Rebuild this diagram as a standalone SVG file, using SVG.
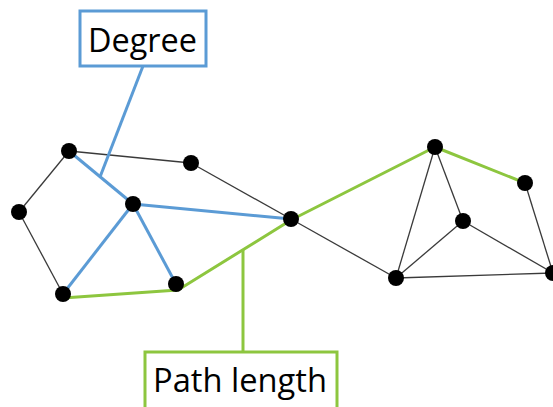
<svg xmlns="http://www.w3.org/2000/svg" width="553" height="407" viewBox="0 0 553 407">
<style>
.e{stroke:#3a3a3a;stroke-width:1.3;fill:none}
.b{stroke:#5B9BD5;stroke-width:3;fill:none}
.g{stroke:#8DC63F;stroke-width:3;fill:none;stroke-linejoin:round}
.n{fill:#000}
.t{font-family:"Open Sans","Liberation Sans",sans-serif;font-size:32px;fill:#000}
</style>
<rect width="553" height="407" fill="#fff"/>
<g id="connectors">
<line class="e" x1="69" y1="151" x2="191" y2="163"/>
<line class="e" x1="69" y1="151" x2="19" y2="212"/>
<line class="e" x1="19" y1="212" x2="63" y2="294"/>
<line class="e" x1="191" y1="163" x2="291" y2="219"/>
<line class="e" x1="291" y1="219" x2="396" y2="278"/>
<line class="e" x1="435" y1="147" x2="396" y2="278"/>
<line class="e" x1="435" y1="147" x2="463" y2="221"/>
<line class="e" x1="463" y1="221" x2="396" y2="278"/>
<line class="e" x1="463" y1="221" x2="553" y2="273"/>
<line class="e" x1="396" y1="278" x2="553" y2="273"/>
<line class="e" x1="525" y1="183" x2="553" y2="273"/>
<line class="b" x1="69" y1="151" x2="133" y2="204"/>
<line class="b" x1="133" y1="204" x2="63" y2="294"/>
<line class="b" x1="133" y1="204" x2="176" y2="284"/>
<line class="b" x1="133" y1="204" x2="291" y2="219"/>
<polyline class="g" points="63,298 178,290 291,220 435,147 525,183"/>
<line class="b" x1="143" y1="66" x2="100" y2="177"/>
<line class="g" x1="243" y1="249" x2="243" y2="352"/>
</g>
<g id="degree">
<rect x="80" y="11" width="126" height="55" fill="#fff" stroke="#5B9BD5" stroke-width="3"/>
<text class="t" x="88" y="52" textLength="109" lengthAdjust="spacingAndGlyphs">Degree</text>
</g>
<g id="path-length">
<rect x="145" y="352" width="192" height="70" fill="#fff" stroke="#8DC63F" stroke-width="3"/>
<text class="t" x="153" y="392" textLength="174" lengthAdjust="spacingAndGlyphs">Path length</text>
</g>
<g id="nA"><circle class="n" cx="69" cy="151" r="8"/></g>
<g id="nB"><circle class="n" cx="191" cy="163" r="8"/></g>
<g id="nC"><circle class="n" cx="19" cy="212" r="8"/></g>
<g id="nD"><circle class="n" cx="133" cy="204" r="8"/></g>
<g id="nE"><circle class="n" cx="291" cy="219" r="8"/></g>
<g id="nF"><circle class="n" cx="63" cy="294" r="8"/></g>
<g id="nG"><circle class="n" cx="176" cy="284" r="8"/></g>
<g id="nH"><circle class="n" cx="435" cy="147" r="8"/></g>
<g id="nI"><circle class="n" cx="525" cy="183" r="8"/></g>
<g id="nJ"><circle class="n" cx="463" cy="221" r="8"/></g>
<g id="nK"><circle class="n" cx="396" cy="278" r="8"/></g>
<g id="nL"><circle class="n" cx="553" cy="273" r="8"/></g>
</svg>
